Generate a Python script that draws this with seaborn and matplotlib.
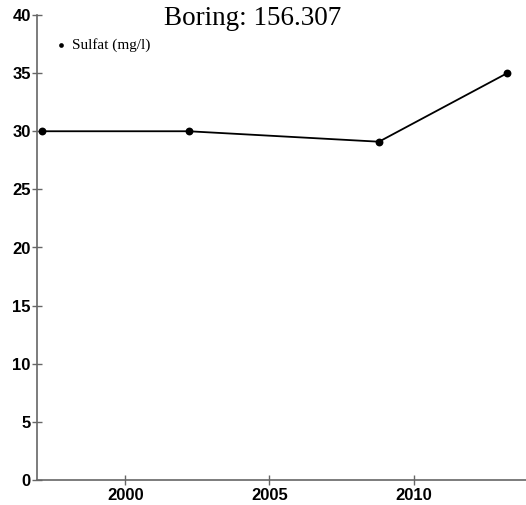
import matplotlib
matplotlib.use("Agg")
import matplotlib.pyplot as plt
import seaborn as sns
import pandas as pd

# data
years = [1997.1, 2002.2, 2008.8, 2013.25]
sulfat = [30.0, 30.0, 29.1, 35.0]
series_label = "Sulfat (mg/l)"
title = "Boring: 156.307"
y_ticks = [0, 5, 10, 15, 20, 25, 30, 35, 40]
x_ticks = [2000, 2005, 2010]

df = pd.DataFrame({"year": years, "value": sulfat})

sns.set_theme(style="white")
plt.rcParams["font.family"] = ["Liberation Serif", "DejaVu Serif"]
plt.rcParams["text.color"] = "black"
plt.rcParams["xtick.color"] = "black"
plt.rcParams["ytick.color"] = "black"

W, H = 526, 505
fig = plt.figure(figsize=(W / 100, H / 100), dpi=100)
ax = fig.add_axes([37 / W, (505 - 480) / H, (W - 37) / W, (480 - 15) / H])

sns.lineplot(data=df, x="year", y="value", ax=ax, color="black",
             linewidth=1.3, legend=False)
sns.scatterplot(data=df, x="year", y="value", ax=ax, color="black",
                s=32, edgecolor="black", linewidth=0, label=series_label)

ax.set_xlim(1996.94, 2013.9)
ax.set_ylim(0, 40)
ax.set_xticks(x_ticks)
ax.set_yticks(y_ticks)
ax.set_xlabel("")
ax.set_ylabel("")

for lbl in ax.get_xticklabels() + ax.get_yticklabels():
    lbl.set_family(["Liberation Sans", "DejaVu Sans"])
    lbl.set_fontweight("bold")
    lbl.set_fontsize(12)
    lbl.set_color("black")

ax.tick_params(axis="both", direction="inout", length=7, width=1,
               color="#666666", bottom=True, left=True)
ax.tick_params(axis="x", pad=2)
ax.tick_params(axis="y", pad=1)
for side in ["top", "right"]:
    ax.spines[side].set_visible(False)
for side in ["left", "bottom"]:
    ax.spines[side].set_color("#666666")
    ax.spines[side].set_linewidth(1.2)

leg = ax.legend(loc="upper left", bbox_to_anchor=(0.0, 0.98), frameon=False,
                handletextpad=0.0, handlelength=1.4, markerscale=0.6,
                prop={"size": 11})
for t in leg.get_texts():
    t.set_color("black")

fig.text(253 / W, 1 - 25 / H, title, ha="center", va="baseline",
         fontsize=19.5, color="black")

fig.savefig("out.png", dpi=100)
